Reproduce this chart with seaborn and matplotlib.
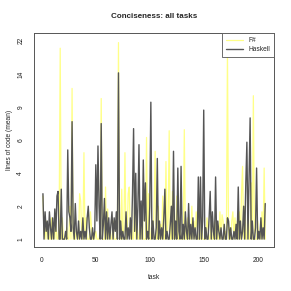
import numpy as np
import pandas as pd
import matplotlib
matplotlib.use("Agg")
import matplotlib.pyplot as plt
import seaborn as sns

# mean lines of code per task, tasks 1..207
haskell = [
    2.5, 1.0, 1.8, 1.2, 1.5, 1.0, 1.8, 1.3, 1.0, 1.6,
    1.0, 1.9, 1.2, 2.4, 2.6, 1.0, 1.0, 2.7, 1.0, 1.0,
    1.0, 1.2, 1.0, 5.0, 1.8, 1.6, 1.2, 7.5, 1.3, 1.0,
    2.1, 1.2, 1.0, 1.5, 1.0, 1.2, 1.0, 1.6, 1.0, 1.2,
    1.0, 1.6, 2.0, 1.3, 1.0, 1.0, 1.3, 1.0, 1.2, 4.0,
    1.5, 5.3, 2.0, 1.0, 7.3, 1.0, 1.4, 2.3, 1.0, 1.8,
    1.0, 1.6, 1.0, 1.4, 1.8, 1.0, 1.6, 1.2, 1.8, 1.0,
    14.5, 1.0, 1.5, 1.0, 1.2, 1.0, 1.0, 1.8, 1.0, 1.3,
    1.0, 1.6, 1.0, 2.5, 6.8, 1.2, 3.5, 1.0, 2.0, 5.4,
    1.0, 2.2, 1.0, 4.3, 1.5, 3.0, 1.0, 1.2, 1.0, 2.0,
    9.8, 1.0, 1.5, 1.0, 1.0, 1.3, 4.4, 1.0, 1.5, 1.0,
    1.3, 1.0, 1.6, 2.7, 1.0, 1.2, 1.0, 1.0, 1.4, 2.0,
    1.0, 4.9, 1.0, 1.5, 1.0, 3.8, 1.2, 1.0, 3.9, 1.0,
    1.4, 1.0, 1.8, 1.2, 1.0, 2.1, 1.0, 1.4, 1.0, 1.6,
    1.0, 1.3, 1.0, 1.0, 3.3, 1.0, 3.3, 1.0, 1.5, 8.8,
    1.0, 1.3, 1.0, 1.0, 1.6, 2.6, 1.0, 1.8, 1.2, 1.0,
    3.3, 1.0, 1.5, 1.2, 1.0, 1.3, 1.0, 1.0, 1.4, 1.0,
    1.0, 1.6, 1.5, 1.0, 1.3, 1.0, 1.0, 1.2, 1.0, 1.4,
    1.0, 2.8, 1.0, 1.5, 1.0, 1.2, 2.0, 1.0, 3.0, 5.6,
    1.0, 3.2, 7.9, 1.0, 1.5, 1.0, 1.0, 1.3, 3.8, 1.0,
    1.2, 1.0, 1.6, 1.0, 1.3, 1.0, 2.1,
]
fsharp = [
    2.4, 1.2, 1.0, 1.5, 1.0, 1.3, 1.0, 1.0, 1.6, 1.0,
    1.3, 1.0, 1.5, 1.0, 1.0, 1.4, 20.0, 1.0, 1.6, 1.0,
    1.0, 1.0, 1.3, 1.0, 1.0, 2.0, 1.0, 11.8, 1.0, 1.0,
    1.0, 1.3, 1.0, 1.0, 2.5, 2.2, 1.0, 1.0, 4.8, 1.0,
    1.6, 1.0, 1.0, 1.0, 1.8, 1.3, 1.0, 1.0, 1.0, 1.2,
    1.0, 1.0, 1.0, 1.3, 10.3, 1.0, 1.0, 1.0, 2.8, 1.0,
    1.9, 1.0, 1.3, 1.0, 1.0, 1.5, 1.0, 1.0, 1.0, 1.2,
    21.5, 1.0, 1.0, 2.7, 1.0, 1.2, 4.8, 1.0, 1.0, 2.5,
    2.8, 1.0, 1.4, 1.0, 1.0, 2.2, 1.0, 1.5, 1.0, 1.0,
    1.5, 1.0, 2.0, 1.0, 1.0, 1.0, 6.0, 1.0, 2.5, 1.0,
    1.0, 1.5, 1.0, 2.0, 4.9, 1.0, 1.0, 2.0, 1.0, 1.4,
    1.0, 2.4, 1.0, 1.0, 4.2, 1.0, 1.5, 6.6, 1.0, 1.0,
    2.6, 1.0, 1.5, 1.0, 2.4, 1.0, 1.0, 1.6, 1.0, 1.0,
    1.0, 6.7, 1.0, 1.0, 1.6, 1.0, 1.3, 1.0, 2.0, 1.0,
    1.5, 1.0, 1.8, 1.3, 1.0, 1.0, 1.0, 1.6, 1.0, 1.0,
    1.0, 1.0, 1.6, 1.3, 1.0, 1.0, 1.4, 1.0, 1.0, 1.5,
    1.0, 1.5, 1.0, 1.0, 1.8, 1.0, 1.7, 1.5, 1.0, 1.2,
    1.0, 20.0, 1.0, 1.3, 1.0, 1.5, 1.8, 1.0, 1.6, 1.0,
    1.5, 1.0, 1.8, 1.0, 2.5, 3.9, 1.0, 2.0, 1.0, 1.0,
    2.0, 1.0, 1.0, 3.0, 1.0, 10.7, 1.0, 1.0, 1.0, 1.5,
    1.0, 1.2, 1.0, 1.8, 1.0, 3.8, 1.0,
]
ytick_labels = [1, 2, 4, 6, 9, 14, 22]
xticks = [0, 50, 100, 150, 200]

tasks = np.arange(1, len(haskell) + 1)
df = pd.concat([
    pd.DataFrame({"task": tasks, "loc": fsharp, "lang": "F#"}),
    pd.DataFrame({"task": tasks, "loc": haskell, "lang": "Haskell"}),
])

sns.set_style("white")
plt.rcParams["font.family"] = ["Liberation Sans", "DejaVu Sans"]

fig = plt.figure(figsize=(2.91, 2.91), dpi=100)
ax = fig.add_axes([0.117, 0.151, 0.825, 0.736])

palette = {"F#": "#ffff88", "Haskell": "#555555"}
sns.lineplot(data=df, x="task", y="loc", hue="lang", palette=palette,
             estimator=None, sort=False, ax=ax, legend=False)
ax.lines[0].set_linewidth(0.9)
ax.lines[1].set_linewidth(1.0)

# y axis is log(1 + y) with equally spaced ticks
ax.set_yscale("function", functions=(np.log1p, np.expm1))
lo, hi = np.log(2), np.log(23)
span = hi - lo
ax.set_ylim(np.expm1(lo - 0.04 * span), np.expm1(hi + 0.04 * span))
ax.set_yticks(np.expm1(np.linspace(lo, hi, len(ytick_labels))))
ax.set_yticklabels([str(v) for v in ytick_labels], rotation=90, va="center")
ax.yaxis.set_minor_locator(matplotlib.ticker.NullLocator())

n = len(tasks)
ax.set_xlim(1 - 0.04 * (n - 1), n + 0.04 * (n - 1))
ax.set_xticks(xticks)
ax.set_xlabel("")
ax.set_ylabel("")

ax.tick_params(axis="both", direction="out", length=3, width=0.6,
               colors="#444444", labelsize=4.8, pad=4, labelcolor="#222222")
for s in ax.spines.values():
    s.set_color("#555555")
    s.set_linewidth(0.7)

fig.text(0.53, 0.942, "Conciseness: all tasks", ha="center", va="center",
         fontsize=5.8, fontweight="bold")
fig.text(0.53, 0.048, "task", ha="center", va="center", fontsize=4.8)
fig.text(0.034, 0.52, "lines of code (mean)", ha="center", va="center",
         rotation=90, fontsize=4.8)

from matplotlib.lines import Line2D
handles = [Line2D([], [], color=palette["F#"], lw=0.9),
           Line2D([], [], color=palette["Haskell"], lw=1.0)]
leg = ax.legend(handles, ["F#", "Haskell"], loc="upper right", fontsize=4.8,
                frameon=True, fancybox=False, borderaxespad=0.0,
                handlelength=2.5, borderpad=0.6, labelspacing=0.3,
                framealpha=1.0)
leg.get_frame().set_edgecolor("#555555")
leg.get_frame().set_linewidth(0.6)

fig.savefig("out.png", dpi=100, facecolor="white")
